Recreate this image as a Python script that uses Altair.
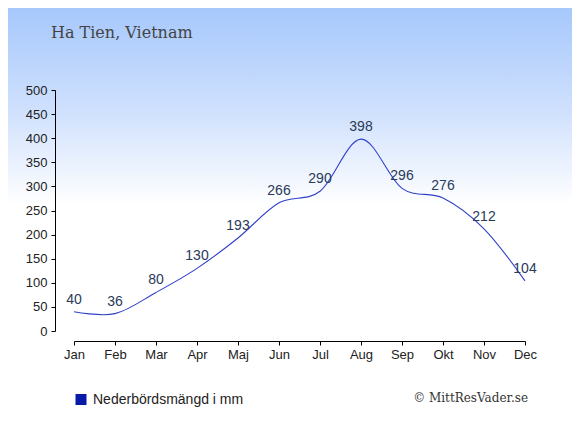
import altair as alt
import pandas as pd

months = ["Jan", "Feb", "Mar", "Apr", "Maj", "Jun", "Jul", "Aug", "Sep", "Okt", "Nov", "Dec"]
rain = [40, 36, 80, 130, 193, 266, 290, 398, 296, 276, 212, 104]
y_ticks = [0, 50, 100, 150, 200, 250, 300, 350, 400, 450, 500]
title_text = "Ha Tien, Vietnam"
legend_text = "Nederbördsmängd i mm"
credit_text = "© MittResVader.se"

df = pd.DataFrame({"month": months, "rain": rain})
one = pd.DataFrame({"k": [0]})

W, H = 451, 241
PL, PT, PR, PB = 66, 82, 47, 96

bg = alt.Chart(one).mark_rect(
    fill=alt.Gradient(
        gradient="linear", x1=0, y1=0, x2=0, y2=1,
        stops=[alt.GradientStop(offset=0, color="#a6c8fc"),
               alt.GradientStop(offset=0.25, color="#d0e1fd"),
               alt.GradientStop(offset=0.47, color="#ffffff"),
               alt.GradientStop(offset=1, color="#ffffff")],
    )
).encode(
    x=alt.value(-PL), x2=alt.value(W + PR),
    y=alt.value(-PT), y2=alt.value(H + PB),
)

xaxis = alt.Axis(title=None, offset=10, labelAngle=0, domainColor="#000",
                 tickColor="#000", tickSize=4, labelPadding=3,
                 labelFont="Liberation Sans", labelFontSize=13,
                 labelColor="#222", zindex=1, grid=False)
yaxis = alt.Axis(title=None, offset=19, values=y_ticks, domainColor="#000",
                 tickColor="#000", tickSize=4, labelPadding=4, labelOverlap=False,
                 labelFont="Liberation Sans", labelFontSize=13,
                 labelColor="#222", zindex=1, grid=False)
xenc = alt.X("month:N", sort=months, scale=alt.Scale(type="point", padding=0), axis=xaxis)
yenc = alt.Y("rain:Q", scale=alt.Scale(domain=[0, 500], nice=False), axis=yaxis)

line = alt.Chart(df).mark_line(
    interpolate="cardinal", color="#3040c8", strokeWidth=1.1
).encode(x=xenc, y=yenc)

labels = alt.Chart(df).mark_text(
    baseline="alphabetic", dy=-8, font="Liberation Sans", fontSize=14, color="#2a3a5a"
).encode(x=xenc, y=yenc, text="rain:Q")

title = alt.Chart(one).mark_text(
    text=title_text, align="left", baseline="alphabetic", font="DejaVu Serif",
    fontSize=16, color="#444"
).encode(x=alt.value(-23), y=alt.value(-52))

sq = alt.Chart(one).mark_square(size=121, color="#0a1aa8", opacity=1).encode(
    x=alt.value(7), y=alt.value(309.5))

leg = alt.Chart(one).mark_text(
    text=legend_text, align="left", baseline="alphabetic", font="Liberation Sans",
    fontSize=14, color="#222"
).encode(x=alt.value(19), y=alt.value(314))

credit = alt.Chart(one).mark_text(
    text=credit_text, align="right", baseline="alphabetic", font="DejaVu Serif",
    fontSize=12, color="#333"
).encode(x=alt.value(454), y=alt.value(312))

chart = alt.layer(bg, line, labels, title, sq, leg, credit).properties(
    width=W, height=H,
    autosize=alt.AutoSizeParams(type="none"),
    padding={"left": PL, "top": PT, "right": PR, "bottom": PB},
    background="white",
).configure_view(stroke="transparent")

chart.save("out.html", embed_options={"renderer": "svg", "actions": False})
